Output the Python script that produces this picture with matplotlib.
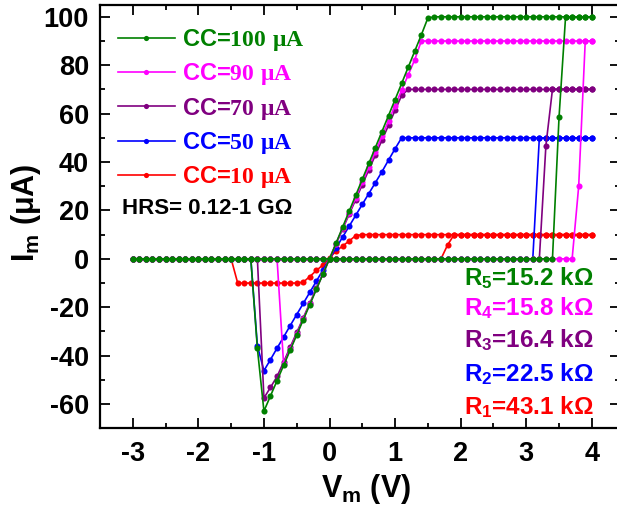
import numpy as np
import matplotlib
matplotlib.use("Agg")
import matplotlib.pyplot as plt
from matplotlib.lines import Line2D
from matplotlib.ticker import MultipleLocator

plt.rcParams['font.family'] = ['Liberation Sans', 'DejaVu Sans']
plt.rcParams['font.weight'] = 'bold'
plt.rcParams['axes.unicode_minus'] = False
plt.rcParams['mathtext.fontset'] = 'custom'
plt.rcParams['mathtext.rm'] = 'Liberation Serif:bold'
plt.rcParams['mathtext.bf'] = 'Liberation Sans:bold'
plt.rcParams['mathtext.sf'] = 'Liberation Sans:bold'
plt.rcParams['mathtext.it'] = 'Liberation Sans:bold'
plt.rcParams['mathtext.default'] = 'bf'

# ---------------- data (V in volts, I in microamps) ----------------
cc_values = [10, 50, 70, 90, 100]
colors = ['#FF0000', '#0000FF', '#800080', '#FF00FF', '#008000']
r_labels = ['R$_1$=43.1 k\u03A9', 'R$_2$=22.5 k\u03A9', 'R$_3$=16.4 k\u03A9',
            'R$_4$=15.8 k\u03A9', 'R$_5$=15.2 k\u03A9']

# set transitions (forward sweep, jump from HRS to compliance)
red_set_v = [1.7, 1.8, 1.9]
red_set_i = [0.0, 5.7, 10.0]
blue_set_v = [3.1, 3.2]
blue_set_i = [0.0, 50.0]
purple_set_v = [3.2, 3.3, 3.4]
purple_set_i = [0.0, 46.8, 70.0]
magenta_set_v = [3.7, 3.8, 3.9]
magenta_set_i = [0.0, 30.0, 90.0]
green_set_v = [3.4, 3.5, 3.6]
green_set_i = [0.0, 58.4, 100.0]

# LRS branches (return sweep from compliance down to reset)
red_lrs_v = [0.4, 0.3, 0.2, 0.1, 0.0, -0.1, -0.2, -0.3, -0.4]
red_lrs_i = [9.6, 7.4, 5.3, 3.2, 0.4, -2.5, -4.8, -7.3, -9.6]
blue_lrs_v = [1.0, 0.9, 0.8, 0.7, 0.6, 0.5, 0.4, 0.3, 0.2, 0.1, 0.0,
              -0.1, -0.2, -0.3, -0.4, -0.5, -0.6, -0.7, -0.8, -0.9, -1.0]
blue_lrs_i = [45.5, 40.8, 36.0, 31.5, 27.0, 22.5, 18.0, 13.5, 9.0, 4.5, 0.0,
              -4.6, -9.2, -13.8, -18.4, -23.0, -27.6, -32.3, -36.9, -41.6, -46.2]
purple_lrs_v = [1.1, 1.0, 0.9, 0.8, 0.7, 0.6, 0.5, 0.4, 0.3, 0.2, 0.1, 0.0,
                -0.1, -0.2, -0.3, -0.4, -0.5, -0.6, -0.7, -0.8, -0.9, -1.0]
purple_lrs_i = [67.5, 61.3, 55.2, 49.0, 42.9, 36.8, 30.6, 24.5, 18.4, 12.3, 6.1, 0.0,
                -6.1, -12.2, -18.3, -24.4, -30.4, -36.5, -42.6, -48.6, -53.1, -57.5]
magenta_lrs_v = [1.3, 1.2, 1.1, 1.0, 0.9, 0.8, 0.7, 0.6, 0.5, 0.4, 0.3, 0.2, 0.1, 0.0,
                 -0.1, -0.2, -0.3, -0.4, -0.5, -0.6, -0.7]
magenta_lrs_i = [82.3, 76.0, 69.6, 63.3, 57.0, 50.6, 44.3, 38.0, 31.6, 25.3, 19.0, 12.7, 6.3, 0.0,
                 -6.2, -12.4, -18.6, -24.8, -31.0, -37.2, -43.5]
green_lrs_v = [1.5, 1.4, 1.3, 1.2, 1.1, 1.0, 0.9, 0.8, 0.7, 0.6, 0.5, 0.4, 0.3, 0.2, 0.1, 0.0,
               -0.1, -0.2, -0.3, -0.4, -0.5, -0.6, -0.7, -0.8, -0.9, -1.0]
green_lrs_i = [99.5, 92.5, 85.8, 79.2, 72.5, 65.8, 59.2, 52.6, 46.0, 39.4, 32.8, 26.2, 19.6, 13.0, 6.5, 0.0,
               -6.3, -12.6, -18.9, -25.2, -31.5, -37.8, -44.0, -50.3, -56.6, -62.9]

# negative-side plateau (only the 10 uA cell is current-limited there)
red_neg_plateau_v = [-0.5, -0.6, -0.7, -0.8, -0.9, -1.0, -1.1, -1.2, -1.3, -1.4]
red_neg_plateau_i = [-10.0] * 10

# reset transitions
red_reset_v = [-1.5]
red_reset_i = [0.0]
blue_reset_v = [-1.1, -1.2]
blue_reset_i = [-35.9, 0.0]
purple_reset_v = [-1.1]
purple_reset_i = [0.0]
magenta_reset_v = [-0.8]
magenta_reset_i = [0.0]
green_reset_v = [-1.1, -1.2]
green_reset_i = [-37.0, 0.0]

V_MIN, V_MAX, V_STEP = -3.0, 4.0, 0.1


def build_loop(cc, set_v, set_i, lrs_v, lrs_i, reset_v, reset_i, neg_v=(), neg_i=()):
    hrs_v = np.round(np.arange(V_MIN, set_v[0] - V_STEP / 2, V_STEP), 2)
    fwd_v = np.round(np.arange(set_v[-1] + V_STEP, V_MAX + V_STEP / 2, V_STEP), 2)
    back_v = np.round(np.arange(V_MAX, lrs_v[0] + V_STEP / 2, -V_STEP), 2)
    tail_start = reset_v[-1] - V_STEP
    tail_v = np.round(np.arange(tail_start, V_MIN - V_STEP / 2, -V_STEP), 2)
    v = np.concatenate([hrs_v, set_v, fwd_v, back_v, lrs_v, list(neg_v), reset_v, tail_v])
    i = np.concatenate([np.zeros(len(hrs_v)), set_i, np.full(len(fwd_v), cc),
                        np.full(len(back_v), cc), lrs_i, list(neg_i), reset_i,
                        np.zeros(len(tail_v))])
    return v, i


loops = [
    build_loop(10, red_set_v, red_set_i, red_lrs_v, red_lrs_i, red_reset_v, red_reset_i,
               red_neg_plateau_v, red_neg_plateau_i),
    build_loop(50, blue_set_v, blue_set_i, blue_lrs_v, blue_lrs_i, blue_reset_v, blue_reset_i),
    build_loop(70, purple_set_v, purple_set_i, purple_lrs_v, purple_lrs_i, purple_reset_v, purple_reset_i),
    build_loop(90, magenta_set_v, magenta_set_i, magenta_lrs_v, magenta_lrs_i, magenta_reset_v, magenta_reset_i),
    build_loop(100, green_set_v, green_set_i, green_lrs_v, green_lrs_i, green_reset_v, green_reset_i),
]

# ---------------- figure ----------------
W, H = 617, 522
fig = plt.figure(figsize=(W / 100, H / 100), dpi=100)
ax = fig.add_axes([100 / W, (H - 428.3) / H, 520 / W, (428.3 - 4.7) / H])

MS = 4.4
for (v, i), col in zip(loops, colors):
    ax.plot(v, i, color=col, lw=1.2, marker='o', ms=MS, mec=col, mfc=col, mew=0)

ax.set_xlim(-3.5, 4.43)
ax.set_ylim(-70, 105)
ax.xaxis.set_major_locator(MultipleLocator(1))
ax.xaxis.set_minor_locator(MultipleLocator(0.5))
ax.yaxis.set_major_locator(MultipleLocator(20))
ax.yaxis.set_minor_locator(MultipleLocator(10))
for s in ax.spines.values():
    s.set_linewidth(1.6)
ax.tick_params(which='both', direction='in', top=True, right=True, width=1.3)
ax.tick_params(which='major', length=7)
ax.tick_params(which='minor', length=3.8)
ax.tick_params(axis='both', which='major', labelsize=19.5)
ax.tick_params(axis='x', pad=9)
ax.tick_params(axis='y', pad=8)
for lab in ax.get_xticklabels() + ax.get_yticklabels():
    lab.set_fontweight('bold')

fig.text(366 / W, (H - 497) / H, 'V$_m$ (V)', fontsize=22, ha='center', va='baseline')
fig.text(26 / W, 1 - 213 / H, 'I$_m$ (\u03BCA)', fontsize=22, rotation=90, ha='center', va='center')

# legend (top to bottom: 100, 90, 70, 50, 10)
handles = []
labels = []
for cc, col in reversed(list(zip(cc_values, colors))):
    handles.append(Line2D([], [], color=col, lw=1.2, marker='o', ms=MS * 0.85, mew=0))
    labels.append('CC=$\\mathrm{%d\\ \u03BCA}$' % cc)
leg = ax.legend(handles, labels, loc='upper left', bbox_to_anchor=(0.0346, 0.947),
                frameon=False, fontsize=17, handlelength=2.4, handletextpad=0.3,
                labelspacing=0.35, borderpad=0, borderaxespad=0, numpoints=1)
for txt, col in zip(leg.get_texts(), reversed(colors)):
    txt.set_color(col)

ax.text(-3.17, 18.7, 'HRS= 0.12-1 G\u03A9', fontsize=16, color='black', ha='left', va='baseline')

r_baselines = [-64.3, -50.3, -36.6, -23.4, -11.0]
for lab, col, yb in zip(r_labels, colors, r_baselines):
    ax.text(4.03, yb, lab, fontsize=17.5, color=col, ha='right', va='baseline')

fig.savefig('out.png', dpi=100)
